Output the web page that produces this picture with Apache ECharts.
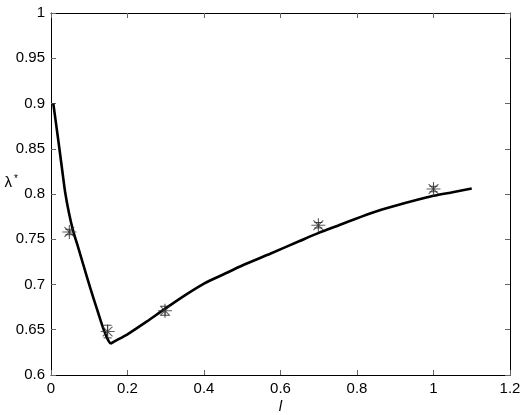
<!DOCTYPE html>
<html>
<head>
<meta charset="utf-8">
<script src="https://cdn.jsdelivr.net/npm/echarts@6/dist/echarts.min.js"></script>
<style>
  html, body { margin: 0; padding: 0; background: #fff; }
  #main { width: 526px; height: 415px; }
</style>
</head>
<body>
<div id="main"></div>
<script>
// fitted curve
var curveX = [0.006, 0.015, 0.022, 0.03, 0.037, 0.047, 0.058, 0.071, 0.085, 0.102, 0.12, 0.137, 0.15, 0.157, 0.165,
  0.2, 0.25, 0.294, 0.35, 0.4, 0.45, 0.5, 0.573, 0.65, 0.7, 0.75, 0.834, 0.9, 1.0, 1.05, 1.1];
var curveY = [0.900, 0.872, 0.850, 0.824, 0.802, 0.779, 0.759, 0.741, 0.721, 0.697, 0.673, 0.651, 0.638, 0.635, 0.637,
  0.645, 0.659, 0.672, 0.688, 0.701, 0.711, 0.721, 0.734, 0.748, 0.757, 0.765, 0.7785, 0.787, 0.798, 0.802, 0.806];

// measured points (asterisks) with error half-widths
var pointX = [0.048, 0.148, 0.298, 0.699, 1.0];
var pointY = [0.758, 0.648, 0.671, 0.7655, 0.8055];
var pointErr = [0.003, 0.007, 0.005, 0.003, 0.003];

var xTicks = { min: 0, max: 1.2, interval: 0.2 };
var yTicks = { min: 0.6, max: 1, interval: 0.05 };

var chart = echarts.init(document.getElementById('main'));

var font = 'Liberation Sans, Arial, sans-serif';
var curveData = curveX.map(function (x, i) { return [x, curveY[i]]; });
var pointData = pointX.map(function (x, i) { return [x, pointY[i], pointErr[i]]; });

var starPath = 'path://M0,-10L0,10M-10,0L10,0M-7,-7L7,7M-7,7L7,-7';

function sideAxis(pos, t, show) {
  return {
    type: 'value',
    position: pos,
    min: t.min,
    max: t.max,
    interval: t.interval,
    axisLine: { show: true, onZero: false, lineStyle: { color: '#000', width: 1 } },
    axisTick: { show: true, inside: true, length: 5, lineStyle: { color: '#666' } },
    axisLabel: { show: show, color: '#000', fontSize: 15, fontFamily: font, margin: 6 },
    splitLine: { show: false }
  };
}

var xBottom = sideAxis('bottom', xTicks, true);
xBottom.name = 'l';
xBottom.nameLocation = 'middle';
xBottom.nameGap = 24;
xBottom.nameMoveOverlap = false;
xBottom.nameTextStyle = { color: '#000', fontSize: 15, fontStyle: 'italic', fontFamily: font };

var yLeft = sideAxis('left', yTicks, true);
yLeft.name = '{a|λ}{b|*}';
yLeft.nameLocation = 'middle';
yLeft.nameRotate = 0;
yLeft.nameGap = 33;
yLeft.nameMoveOverlap = false;
yLeft.nameTextStyle = {
  color: '#000', fontFamily: font, align: 'right', padding: [0, 0, 22, 0],
  rich: {
    a: { fontSize: 15, fontFamily: font, color: '#000' },
    b: { fontSize: 10, fontFamily: font, color: '#000', padding: [0, 0, 8, 2] }
  }
};

var option = {
  animation: false,
  backgroundColor: '#fff',
  grid: { left: 51, right: 16, top: 13, bottom: 40, outerBoundsMode: 'none' },
  xAxis: [xBottom, sideAxis('top', xTicks, false)],
  yAxis: [yLeft, sideAxis('right', yTicks, false)],
  series: [
    {
      type: 'line',
      data: curveData,
      showSymbol: false,
      symbol: 'none',
      smooth: 0.25,
      lineStyle: { color: '#000', width: 2.6 },
      z: 3
    },
    {
      type: 'custom',
      data: pointData,
      renderItem: function (params, api) {
        var x = api.value(0), y = api.value(1), e = api.value(2);
        var top = api.coord([x, y + e]);
        var bot = api.coord([x, y - e]);
        var cap = 4;
        var style = { stroke: '#444', lineWidth: 1 };
        return {
          type: 'group',
          children: [
            { type: 'line', shape: { x1: top[0], y1: top[1], x2: bot[0], y2: bot[1] }, style: style },
            { type: 'line', shape: { x1: top[0] - cap, y1: top[1], x2: top[0] + cap, y2: top[1] }, style: style },
            { type: 'line', shape: { x1: bot[0] - cap, y1: bot[1], x2: bot[0] + cap, y2: bot[1] }, style: style }
          ]
        };
      },
      z: 2
    },
    {
      type: 'scatter',
      data: pointData,
      symbol: starPath,
      symbolSize: 14,
      itemStyle: { color: 'transparent', borderColor: '#333', borderWidth: 1.1 },
      z: 4
    }
  ]
};

chart.setOption(option);
</script>
</body>
</html>
